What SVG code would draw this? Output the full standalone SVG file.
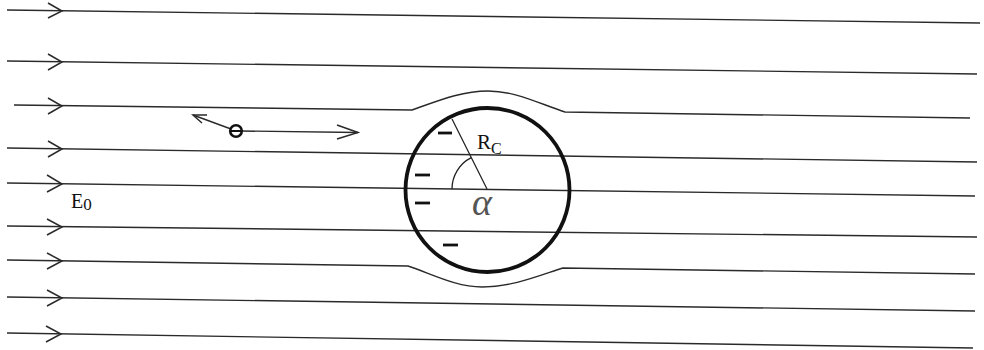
<svg xmlns="http://www.w3.org/2000/svg" width="984" height="350" viewBox="0 0 984 350">
<style>
.fl{fill:none;stroke:#2a2a2a;stroke-width:1.4}
.ch{fill:none;stroke:#2a2a2a;stroke-width:1.5;stroke-linejoin:miter}
.minus{stroke:#111;stroke-width:2.8}
.t{font-family:"Liberation Serif",serif;fill:#111}
</style>
<rect width="984" height="350" fill="#fff"/>
<g id="field-lines">
<path class="fl" d="M7,10 L980,23"/>
<path class="fl" d="M7,61 L977,74"/>
<path class="fl" d="M14,105 L412,110 C440,100 462,91 488,91 C516,91 540,104 565,112 L970,118"/>
<path class="fl" d="M7,148 L977,162"/>
<path class="fl" d="M7,183 L975,196"/>
<path class="fl" d="M7,226 L977,237"/>
<path class="fl" d="M7,260 L408,266 C432,274 456,287 482,287 C512,287 538,276 563,268 L975,274"/>
<path class="fl" d="M7,297 L975,311"/>
<path class="fl" d="M7,333 L973,348"/>
<path class="ch" d="M48,3 L62,11 L48,18"/>
<path class="ch" d="M48,54 L62,62 L48,70"/>
<path class="ch" d="M48,98 L62,106 L48,114"/>
<path class="ch" d="M48,141 L62,149 L48,157"/>
<path class="ch" d="M47,175 L62,184 L47,192"/>
<path class="ch" d="M47,219 L62,227 L47,235"/>
<path class="ch" d="M47,253 L62,261 L47,269"/>
<path class="ch" d="M47,290 L62,298 L47,306"/>
<path class="ch" d="M46,326 L61,334 L46,342"/>
</g>
<g id="electron">
<path class="fl" d="M241,131 L358,132.5"/>
<path class="ch" d="M337,125 L358,132.5 L337,139"/>
<path class="fl" d="M231,129 L193,115"/>
<path class="ch" d="M207,115 L193,115 L202,123"/>
<circle cx="236" cy="131" r="5.8" fill="#fff" stroke="#111" stroke-width="2.6"/>
<line x1="230" y1="131" x2="242" y2="131" stroke="#111" stroke-width="2"/>
</g>
<g id="cylinder">
<circle cx="487.5" cy="190" r="82" fill="none" stroke="#111" stroke-width="3.8"/>
<line x1="487" y1="189" x2="452" y2="119" stroke="#222" stroke-width="1.3"/>
<path d="M452,189 A35,35 0 0 1 471.3,157.7" fill="none" stroke="#222" stroke-width="1.3"/>
<line class="minus" x1="438" y1="133" x2="452" y2="133"/>
<line class="minus" x1="415" y1="175" x2="430" y2="175"/>
<line class="minus" x1="415" y1="203" x2="430" y2="203"/>
<line class="minus" x1="443" y1="245" x2="458" y2="245"/>
<text class="t" x="477" y="149" font-size="21">R<tspan font-size="16" dy="5">C</tspan></text>
<text x="472" y="215" font-family="Liberation Serif, serif" font-size="38" font-style="italic" fill="#555">α</text>
</g>
<g id="label-E0">
<text class="t" x="71" y="208" font-size="20">E<tspan font-size="17" dy="2">0</tspan></text>
</g>
</svg>
